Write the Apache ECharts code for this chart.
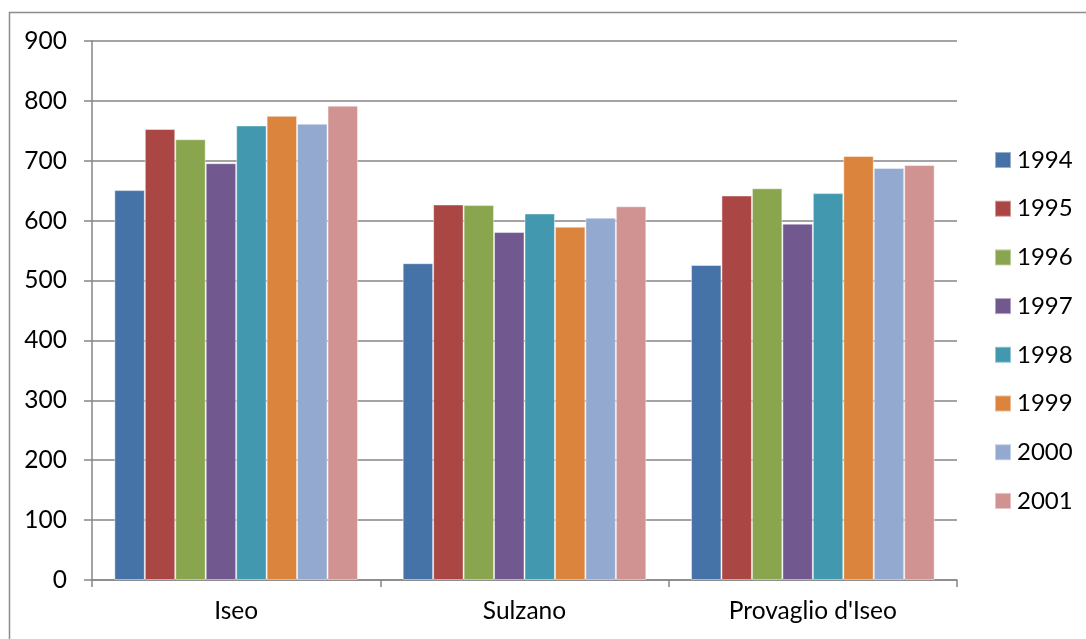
<!DOCTYPE html>
<html>
<head>
<meta charset="utf-8">
<script src="https://cdn.jsdelivr.net/npm/echarts@6/dist/echarts.min.js"></script>
<style>
  html, body { margin: 0; padding: 0; background: #fff; }
  #chart { width: 1086px; height: 639px; }
</style>
</head>
<body>
<div id="chart"></div>
<script>
// Comuni lungo il lago
const categories = ['Iseo', 'Sulzano', "Provaglio d'Iseo"];

// Years shown as series
const years = ['1994', '1995', '1996', '1997', '1998', '1999', '2000', '2001'];

// Values per year, one entry per comune
const v1994 = [651, 529, 526];
const v1995 = [753, 627, 642];
const v1996 = [736, 626, 654];
const v1997 = [696, 581, 595];
const v1998 = [759, 612, 646];
const v1999 = [775, 590, 708];
const v2000 = [762, 605, 688];
const v2001 = [792, 624, 693];

const yearValues = [v1994, v1995, v1996, v1997, v1998, v1999, v2000, v2001];

const palette = ['#4572A7', '#AA4643', '#89A54E', '#71588F', '#4198AF', '#DB843D', '#93A9CF', '#D19392'];

const font = 'Lato, "Open Sans", sans-serif';

const series = years.map((y, i) => ({
  name: y,
  type: 'bar',
  data: yearValues[i],
  barGap: '0%',
  barCategoryGap: '15.5%',
  itemStyle: {
    color: palette[i],
    borderColor: 'rgba(255,255,255,0.45)',
    borderWidth: 1
  }
}));

const chart = echarts.init(document.getElementById('chart'), null, { renderer: 'canvas' });

chart.setOption({
  animation: false,
  color: palette,
  graphic: [{
    type: 'rect',
    shape: { x: 9.5, y: 12.5, width: 1100, height: 700 },
    style: { fill: 'none', stroke: '#8c8c8c', lineWidth: 1.5 },
    silent: true,
    z: -1
  }],
  grid: { left: 92, right: 129, top: 41, bottom: 59, containLabel: false },
  legend: {
    orient: 'vertical',
    left: 989,
    top: 143,
    itemWidth: 16,
    itemHeight: 16,
    itemGap: 24.7,
    icon: 'rect',
    textStyle: { fontFamily: font, fontSize: 24, color: '#000', padding: [0, 0, 0, 1] },
    data: years
  },
  xAxis: {
    type: 'category',
    data: categories,
    axisLine: { lineStyle: { color: '#868686', width: 1.5 } },
    axisTick: { show: true, length: 7, lineStyle: { color: '#868686', width: 1.5 } },
    axisLabel: { fontFamily: font, fontSize: 24.5, color: '#000', margin: 19 }
  },
  yAxis: {
    type: 'value',
    min: 0,
    max: 900,
    interval: 100,
    axisLine: { show: true, lineStyle: { color: '#868686', width: 1.5 } },
    axisTick: { show: true, length: 8, lineStyle: { color: '#868686', width: 1.5 } },
    splitLine: { lineStyle: { color: '#868686', width: 1.5 } },
    axisLabel: { fontFamily: font, fontSize: 24.5, color: '#000', margin: 25 }
  },
  series: series
});
</script>
</body>
</html>
